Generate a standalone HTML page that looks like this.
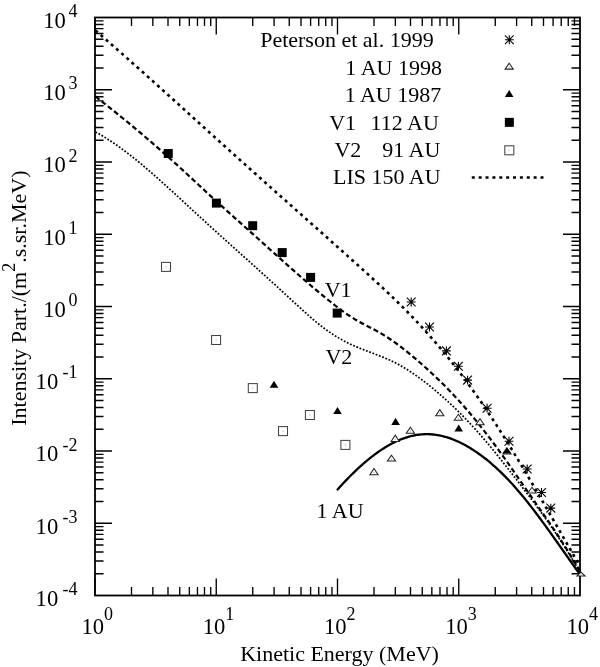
<!DOCTYPE html>
<html><head><meta charset="utf-8"><style>
html,body{margin:0;padding:0;background:#fff;}
svg{display:block;filter:grayscale(1);}
text{font-family:"Liberation Serif",serif;fill:#000;}
</style></head><body>
<svg width="600" height="667" viewBox="0 0 600 667">
<rect x="95.0" y="17.5" width="485.0" height="578.0" fill="none" stroke="#000" stroke-width="1.8"/>
<path d="M95.00 595.5V578.5M95.00 17.5V34.5M131.50 595.5V587.0M131.50 17.5V26.0M152.85 595.5V587.0M152.85 17.5V26.0M168.00 595.5V587.0M168.00 17.5V26.0M179.75 595.5V587.0M179.75 17.5V26.0M189.35 595.5V587.0M189.35 17.5V26.0M197.47 595.5V587.0M197.47 17.5V26.0M204.50 595.5V587.0M204.50 17.5V26.0M210.70 595.5V587.0M210.70 17.5V26.0M216.25 595.5V578.5M216.25 17.5V34.5M252.75 595.5V587.0M252.75 17.5V26.0M274.10 595.5V587.0M274.10 17.5V26.0M289.25 595.5V587.0M289.25 17.5V26.0M301.00 595.5V587.0M301.00 17.5V26.0M310.60 595.5V587.0M310.60 17.5V26.0M318.72 595.5V587.0M318.72 17.5V26.0M325.75 595.5V587.0M325.75 17.5V26.0M331.95 595.5V587.0M331.95 17.5V26.0M337.50 595.5V578.5M337.50 17.5V34.5M374.00 595.5V587.0M374.00 17.5V26.0M395.35 595.5V587.0M395.35 17.5V26.0M410.50 595.5V587.0M410.50 17.5V26.0M422.25 595.5V587.0M422.25 17.5V26.0M431.85 595.5V587.0M431.85 17.5V26.0M439.97 595.5V587.0M439.97 17.5V26.0M447.00 595.5V587.0M447.00 17.5V26.0M453.20 595.5V587.0M453.20 17.5V26.0M458.75 595.5V578.5M458.75 17.5V34.5M495.25 595.5V587.0M495.25 17.5V26.0M516.60 595.5V587.0M516.60 17.5V26.0M531.75 595.5V587.0M531.75 17.5V26.0M543.50 595.5V587.0M543.50 17.5V26.0M553.10 595.5V587.0M553.10 17.5V26.0M561.22 595.5V587.0M561.22 17.5V26.0M568.25 595.5V587.0M568.25 17.5V26.0M574.45 595.5V587.0M574.45 17.5V26.0M95.0 573.75H103.5M580.0 573.75H571.5M95.0 561.03H103.5M580.0 561.03H571.5M95.0 552.00H103.5M580.0 552.00H571.5M95.0 545.00H103.5M580.0 545.00H571.5M95.0 539.28H103.5M580.0 539.28H571.5M95.0 534.44H103.5M580.0 534.44H571.5M95.0 530.25H103.5M580.0 530.25H571.5M95.0 526.56H103.5M580.0 526.56H571.5M95.0 523.25H112.0M580.0 523.25H563.0M95.0 501.50H103.5M580.0 501.50H571.5M95.0 488.78H103.5M580.0 488.78H571.5M95.0 479.75H103.5M580.0 479.75H571.5M95.0 472.75H103.5M580.0 472.75H571.5M95.0 467.03H103.5M580.0 467.03H571.5M95.0 462.19H103.5M580.0 462.19H571.5M95.0 458.00H103.5M580.0 458.00H571.5M95.0 454.31H103.5M580.0 454.31H571.5M95.0 451.00H112.0M580.0 451.00H563.0M95.0 429.25H103.5M580.0 429.25H571.5M95.0 416.53H103.5M580.0 416.53H571.5M95.0 407.50H103.5M580.0 407.50H571.5M95.0 400.50H103.5M580.0 400.50H571.5M95.0 394.78H103.5M580.0 394.78H571.5M95.0 389.94H103.5M580.0 389.94H571.5M95.0 385.75H103.5M580.0 385.75H571.5M95.0 382.06H103.5M580.0 382.06H571.5M95.0 378.75H112.0M580.0 378.75H563.0M95.0 357.00H103.5M580.0 357.00H571.5M95.0 344.28H103.5M580.0 344.28H571.5M95.0 335.25H103.5M580.0 335.25H571.5M95.0 328.25H103.5M580.0 328.25H571.5M95.0 322.53H103.5M580.0 322.53H571.5M95.0 317.69H103.5M580.0 317.69H571.5M95.0 313.50H103.5M580.0 313.50H571.5M95.0 309.81H103.5M580.0 309.81H571.5M95.0 306.50H112.0M580.0 306.50H563.0M95.0 284.75H103.5M580.0 284.75H571.5M95.0 272.03H103.5M580.0 272.03H571.5M95.0 263.00H103.5M580.0 263.00H571.5M95.0 256.00H103.5M580.0 256.00H571.5M95.0 250.28H103.5M580.0 250.28H571.5M95.0 245.44H103.5M580.0 245.44H571.5M95.0 241.25H103.5M580.0 241.25H571.5M95.0 237.56H103.5M580.0 237.56H571.5M95.0 234.25H112.0M580.0 234.25H563.0M95.0 212.50H103.5M580.0 212.50H571.5M95.0 199.78H103.5M580.0 199.78H571.5M95.0 190.75H103.5M580.0 190.75H571.5M95.0 183.75H103.5M580.0 183.75H571.5M95.0 178.03H103.5M580.0 178.03H571.5M95.0 173.19H103.5M580.0 173.19H571.5M95.0 169.00H103.5M580.0 169.00H571.5M95.0 165.31H103.5M580.0 165.31H571.5M95.0 162.00H112.0M580.0 162.00H563.0M95.0 140.25H103.5M580.0 140.25H571.5M95.0 127.53H103.5M580.0 127.53H571.5M95.0 118.50H103.5M580.0 118.50H571.5M95.0 111.50H103.5M580.0 111.50H571.5M95.0 105.78H103.5M580.0 105.78H571.5M95.0 100.94H103.5M580.0 100.94H571.5M95.0 96.75H103.5M580.0 96.75H571.5M95.0 93.06H103.5M580.0 93.06H571.5M95.0 89.75H112.0M580.0 89.75H563.0M95.0 68.00H103.5M580.0 68.00H571.5M95.0 55.28H103.5M580.0 55.28H571.5M95.0 46.25H103.5M580.0 46.25H571.5M95.0 39.25H103.5M580.0 39.25H571.5M95.0 33.53H103.5M580.0 33.53H571.5M95.0 28.69H103.5M580.0 28.69H571.5M95.0 24.50H103.5M580.0 24.50H571.5M95.0 20.81H103.5M580.0 20.81H571.5" stroke="#000" stroke-width="1.35" fill="none"/>
<text x="35.60" y="605.80" font-size="22.6" text-anchor="start" >10</text>
<text x="77.40" y="595.20" font-size="18" text-anchor="end" >-4</text>
<text x="35.60" y="533.55" font-size="22.6" text-anchor="start" >10</text>
<text x="77.40" y="522.95" font-size="18" text-anchor="end" >-3</text>
<text x="35.60" y="461.30" font-size="22.6" text-anchor="start" >10</text>
<text x="77.40" y="450.70" font-size="18" text-anchor="end" >-2</text>
<text x="35.60" y="389.05" font-size="22.6" text-anchor="start" >10</text>
<text x="77.40" y="378.45" font-size="18" text-anchor="end" >-1</text>
<text x="43.20" y="316.80" font-size="22.6" text-anchor="start" >10</text>
<text x="77.40" y="306.20" font-size="18" text-anchor="end" >0</text>
<text x="43.20" y="244.55" font-size="22.6" text-anchor="start" >10</text>
<text x="77.40" y="233.95" font-size="18" text-anchor="end" >1</text>
<text x="43.20" y="172.30" font-size="22.6" text-anchor="start" >10</text>
<text x="77.40" y="161.70" font-size="18" text-anchor="end" >2</text>
<text x="43.20" y="100.05" font-size="22.6" text-anchor="start" >10</text>
<text x="77.40" y="89.45" font-size="18" text-anchor="end" >3</text>
<text x="43.20" y="27.80" font-size="22.6" text-anchor="start" >10</text>
<text x="77.40" y="17.20" font-size="18" text-anchor="end" >4</text>
<text x="81.40" y="633.50" font-size="22.6" text-anchor="start" >10</text>
<text x="104.00" y="620.30" font-size="18" text-anchor="start" >0</text>
<text x="202.65" y="633.50" font-size="22.6" text-anchor="start" >10</text>
<text x="225.25" y="620.30" font-size="18" text-anchor="start" >1</text>
<text x="323.90" y="633.50" font-size="22.6" text-anchor="start" >10</text>
<text x="346.50" y="620.30" font-size="18" text-anchor="start" >2</text>
<text x="445.15" y="633.50" font-size="22.6" text-anchor="start" >10</text>
<text x="467.75" y="620.30" font-size="18" text-anchor="start" >3</text>
<text x="566.40" y="633.50" font-size="22.6" text-anchor="start" >10</text>
<text x="589.00" y="620.30" font-size="18" text-anchor="start" >4</text>
<text x="240.17" y="661.00" font-size="22" text-anchor="start" >Kinetic Energy (MeV)</text>
<text transform="translate(26,425.79) rotate(-90)" font-size="22">Intensity Part./(m<tspan font-size="18" dy="-11">2</tspan><tspan dy="11">.s.sr.MeV)</tspan></text>
<text x="260.17" y="47.40" font-size="22" text-anchor="start" >Peterson et al. 1999</text>
<text x="345.37" y="74.90" font-size="22" text-anchor="start" >1 AU 1998</text>
<text x="344.67" y="102.30" font-size="22" text-anchor="start" >1 AU 1987</text>
<text x="329.15" y="129.60" font-size="22" text-anchor="start" >V1</text>
<text x="370.57" y="129.60" font-size="22" text-anchor="start" >112 AU</text>
<text x="334.45" y="156.90" font-size="22" text-anchor="start" >V2</text>
<text x="382.29" y="156.90" font-size="22" text-anchor="start" >91 AU</text>
<text x="332.97" y="184.20" font-size="22" text-anchor="start" >LIS 150 AU</text>
<text x="324.65" y="297.30" font-size="22" text-anchor="start" >V1</text>
<text x="325.45" y="364.00" font-size="22" text-anchor="start" >V2</text>
<text x="316.57" y="518.00" font-size="22" text-anchor="start" >1 AU</text>
<path d="M95.50 30.52L97.00 31.82L98.50 33.12L100.00 34.42L101.50 35.72L103.00 37.03L104.50 38.34L106.00 39.64L107.50 40.96L109.00 42.27L110.50 43.58L112.00 44.90L113.50 46.21L115.00 47.53L116.50 48.85L118.00 50.17L119.50 51.50L121.00 52.82L122.50 54.15L124.00 55.47L125.50 56.80L127.00 58.13L128.50 59.46L130.00 60.79L131.50 62.13L133.00 63.46L134.50 64.80L136.00 66.13L137.50 67.47L139.00 68.81L140.50 70.15L142.00 71.49L143.50 72.83L145.00 74.17L146.50 75.52L148.00 76.86L149.50 78.21L151.00 79.55L152.50 80.90L154.00 82.25L155.50 83.60L157.00 84.95L158.50 86.30L160.00 87.65L161.50 89.00L163.00 90.35L164.50 91.71L166.00 93.06L167.50 94.41L169.00 95.77L170.50 97.12L172.00 98.48L173.50 99.83L175.00 101.19L176.50 102.55L178.00 103.90L179.50 105.26L181.00 106.62L182.50 107.98L184.00 109.33L185.50 110.69L187.00 112.05L188.50 113.41L190.00 114.77L191.50 116.13L193.00 117.49L194.50 118.85L196.00 120.21L197.50 121.56L199.00 122.92L200.50 124.28L202.00 125.64L203.50 127.00L205.00 128.36L206.50 129.72L208.00 131.08L209.50 132.44L211.00 133.79L212.50 135.15L214.00 136.51L215.50 137.87L217.00 139.22L218.50 140.58L220.00 141.94L221.50 143.29L223.00 144.65L224.50 146.00L226.00 147.36L227.50 148.71L229.00 150.06L230.50 151.41L232.00 152.77L233.50 154.12L235.00 155.47L236.50 156.82L238.00 158.17L239.50 159.52L241.00 160.86L242.50 162.21L244.00 163.56L245.50 164.90L247.00 166.25L248.50 167.59L250.00 168.93L251.50 170.28L253.00 171.62L254.50 172.96L256.00 174.30L257.50 175.64L259.00 176.98L260.50 178.32L262.00 179.66L263.50 181.00L265.00 182.34L266.50 183.68L268.00 185.01L269.50 186.35L271.00 187.69L272.50 189.02L274.00 190.36L275.50 191.70L277.00 193.03L278.50 194.37L280.00 195.70L281.50 197.04L283.00 198.37L284.50 199.71L286.00 201.04L287.50 202.37L289.00 203.71L290.50 205.04L292.00 206.38L293.50 207.71L295.00 209.04L296.50 210.38L298.00 211.71L299.50 213.05L301.00 214.38L302.50 215.71L304.00 217.05L305.50 218.38L307.00 219.72L308.50 221.05L310.00 222.39L311.50 223.72L313.00 225.06L314.50 226.39L316.00 227.73L317.50 229.06L319.00 230.40L320.50 231.74L322.00 233.07L323.50 234.41L325.00 235.75L326.50 237.09L328.00 238.43L329.50 239.77L331.00 241.11L332.50 242.45L334.00 243.79L335.50 245.13L337.00 246.47L338.50 247.81L340.00 249.15L341.50 250.50L343.00 251.84L344.50 253.19L346.00 254.53L347.50 255.88L349.00 257.23L350.50 258.57L352.00 259.92L353.50 261.27L355.00 262.62L356.50 263.97L358.00 265.32L359.50 266.68L361.00 268.03L362.50 269.39L364.00 270.74L365.50 272.10L367.00 273.46L368.50 274.82L370.00 276.19L371.50 277.55L373.00 278.93L374.50 280.30L376.00 281.68L377.50 283.06L379.00 284.45L380.50 285.84L382.00 287.23L383.50 288.63L385.00 290.04L386.50 291.45L388.00 292.87L389.50 294.29L391.00 295.73L392.50 297.16L394.00 298.61L395.50 300.06L397.00 301.52L398.50 302.99L400.00 304.46L401.50 305.95L403.00 307.44L404.50 308.94L406.00 310.46L407.50 311.98L409.00 313.51L410.50 315.05L412.00 316.60L413.50 318.17L415.00 319.74L416.50 321.33L418.00 322.92L419.50 324.53L421.00 326.15L422.50 327.79L424.00 329.43L425.50 331.09L427.00 332.76L428.50 334.44L430.00 336.14L431.50 337.85L433.00 339.57L434.50 341.30L436.00 343.05L437.50 344.81L439.00 346.58L440.50 348.37L442.00 350.17L443.50 351.98L445.00 353.81L446.50 355.65L448.00 357.50L449.50 359.37L451.00 361.25L452.50 363.14L454.00 365.05L455.50 366.97L457.00 368.91L458.50 370.86L460.00 372.82L461.50 374.80L463.00 376.80L464.50 378.80L466.00 380.82L467.50 382.86L469.00 384.91L470.50 386.98L472.00 389.06L473.50 391.15L475.00 393.26L476.50 395.39L478.00 397.53L479.50 399.68L481.00 401.86L482.50 404.04L484.00 406.24L485.50 408.46L487.00 410.69L488.50 412.94L490.00 415.20L491.50 417.47L493.00 419.76L494.50 422.07L496.00 424.38L497.50 426.71L499.00 429.05L500.50 431.41L502.00 433.77L503.50 436.15L505.00 438.54L506.50 440.94L508.00 443.36L509.50 445.78L511.00 448.21L512.50 450.66L514.00 453.11L515.50 455.58L517.00 458.05L518.50 460.53L520.00 463.03L521.50 465.53L523.00 468.04L524.50 470.55L526.00 473.08L527.50 475.61L529.00 478.15L530.50 480.69L532.00 483.25L533.50 485.80L535.00 488.37L536.50 490.94L538.00 493.51L539.50 496.09L541.00 498.67L542.50 501.26L544.00 503.85L545.50 506.44L547.00 509.03L548.50 511.63L550.00 514.23L551.50 516.83L553.00 519.43L554.50 522.04L556.00 524.64L557.50 527.24L559.00 529.84L560.50 532.45L562.00 535.05L563.50 537.65L565.00 540.25L566.50 542.84L568.00 545.43L569.50 548.03L571.00 550.61L572.50 553.20L574.00 555.78L575.50 558.35L577.00 560.92L578.50 563.49L580.00 566.05" fill="none" stroke="#000" stroke-width="2.6" stroke-dasharray="3 3.87"/>
<path d="M95.50 96.48L97.00 97.66L98.50 98.83L100.00 100.01L101.50 101.19L103.00 102.37L104.50 103.55L106.00 104.74L107.50 105.93L109.00 107.13L110.50 108.33L112.00 109.53L113.50 110.73L115.00 111.94L116.50 113.15L118.00 114.36L119.50 115.57L121.00 116.79L122.50 118.01L124.00 119.24L125.50 120.47L127.00 121.70L128.50 122.94L130.00 124.17L131.50 125.42L133.00 126.66L134.50 127.91L136.00 129.16L137.50 130.42L139.00 131.68L140.50 132.94L142.00 134.21L143.50 135.48L145.00 136.75L146.50 138.03L148.00 139.31L149.50 140.60L151.00 141.89L152.50 143.18L154.00 144.48L155.50 145.78L157.00 147.09L158.50 148.39L160.00 149.71L161.50 151.02L163.00 152.34L164.50 153.67L166.00 155.00L167.50 156.33L169.00 157.67L170.50 159.01L172.00 160.36L173.50 161.71L175.00 163.06L176.50 164.42L178.00 165.79L179.50 167.15L181.00 168.53L182.50 169.90L184.00 171.28L185.50 172.67L187.00 174.05L188.50 175.44L190.00 176.83L191.50 178.23L193.00 179.62L194.50 181.02L196.00 182.41L197.50 183.81L199.00 185.21L200.50 186.60L202.00 188.00L203.50 189.39L205.00 190.78L206.50 192.18L208.00 193.56L209.50 194.95L211.00 196.33L212.50 197.71L214.00 199.08L215.50 200.46L217.00 201.82L218.50 203.19L220.00 204.55L221.50 205.91L223.00 207.27L224.50 208.62L226.00 209.98L227.50 211.33L229.00 212.68L230.50 214.03L232.00 215.37L233.50 216.72L235.00 218.06L236.50 219.41L238.00 220.75L239.50 222.09L241.00 223.43L242.50 224.77L244.00 226.11L245.50 227.45L247.00 228.79L248.50 230.13L250.00 231.48L251.50 232.82L253.00 234.16L254.50 235.51L256.00 236.85L257.50 238.20L259.00 239.55L260.50 240.89L262.00 242.24L263.50 243.59L265.00 244.94L266.50 246.29L268.00 247.64L269.50 248.99L271.00 250.34L272.50 251.69L274.00 253.04L275.50 254.39L277.00 255.73L278.50 257.08L280.00 258.42L281.50 259.77L283.00 261.11L284.50 262.45L286.00 263.78L287.50 265.12L289.00 266.45L290.50 267.78L292.00 269.11L293.50 270.44L295.00 271.76L296.50 273.08L298.00 274.39L299.50 275.71L301.00 277.02L302.50 278.32L304.00 279.62L305.50 280.92L307.00 282.22L308.50 283.50L310.00 284.79L311.50 286.07L313.00 287.34L314.50 288.62L316.00 289.88L317.50 291.14L319.00 292.39L320.50 293.64L322.00 294.89L323.50 296.12L325.00 297.35L326.50 298.58L328.00 299.80L329.50 301.01L331.00 302.21L332.50 303.40L334.00 304.58L335.50 305.75L337.00 306.91L338.50 308.05L340.00 309.18L341.50 310.29L343.00 311.38L344.50 312.45L346.00 313.50L347.50 314.54L349.00 315.54L350.50 316.53L352.00 317.49L353.50 318.43L355.00 319.33L356.50 320.21L358.00 321.07L359.50 321.91L361.00 322.72L362.50 323.53L364.00 324.32L365.50 325.10L367.00 325.88L368.50 326.65L370.00 327.43L371.50 328.21L373.00 328.99L374.50 329.79L376.00 330.59L377.50 331.41L379.00 332.25L380.50 333.11L382.00 334.00L383.50 334.91L385.00 335.84L386.50 336.79L388.00 337.76L389.50 338.75L391.00 339.77L392.50 340.80L394.00 341.85L395.50 342.92L397.00 344.01L398.50 345.12L400.00 346.25L401.50 347.39L403.00 348.55L404.50 349.72L406.00 350.91L407.50 352.11L409.00 353.33L410.50 354.57L412.00 355.81L413.50 357.07L415.00 358.34L416.50 359.62L418.00 360.92L419.50 362.22L421.00 363.54L422.50 364.86L424.00 366.20L425.50 367.54L427.00 368.90L428.50 370.27L430.00 371.64L431.50 373.03L433.00 374.43L434.50 375.84L436.00 377.26L437.50 378.70L439.00 380.15L440.50 381.61L442.00 383.08L443.50 384.57L445.00 386.08L446.50 387.60L448.00 389.13L449.50 390.68L451.00 392.25L452.50 393.83L454.00 395.43L455.50 397.04L457.00 398.67L458.50 400.31L460.00 401.97L461.50 403.64L463.00 405.33L464.50 407.04L466.00 408.76L467.50 410.50L469.00 412.25L470.50 414.02L472.00 415.81L473.50 417.61L475.00 419.42L476.50 421.26L478.00 423.10L479.50 424.97L481.00 426.85L482.50 428.74L484.00 430.65L485.50 432.58L487.00 434.53L488.50 436.48L490.00 438.46L491.50 440.45L493.00 442.46L494.50 444.48L496.00 446.52L497.50 448.56L499.00 450.62L500.50 452.70L502.00 454.78L503.50 456.88L505.00 458.98L506.50 461.10L508.00 463.22L509.50 465.35L511.00 467.49L512.50 469.63L514.00 471.78L515.50 473.93L517.00 476.09L518.50 478.26L520.00 480.42L521.50 482.59L523.00 484.77L524.50 486.94L526.00 489.11L527.50 491.28L529.00 493.46L530.50 495.63L532.00 497.79L533.50 499.96L535.00 502.12L536.50 504.28L538.00 506.43L539.50 508.58L541.00 510.72L542.50 512.87L544.00 515.02L545.50 517.17L547.00 519.32L548.50 521.49L550.00 523.67L551.50 525.87L553.00 528.08L554.50 530.31L556.00 532.56L557.50 534.84L559.00 537.13L560.50 539.45L562.00 541.79L563.50 544.14L565.00 546.51L566.50 548.90L568.00 551.31L569.50 553.74L571.00 556.18L572.50 558.63L574.00 561.10L575.50 563.59L577.00 566.08L578.50 568.59L580.00 571.11" fill="none" stroke="#000" stroke-width="2.2" stroke-dasharray="5 2.9"/>
<path d="M95.50 131.91L97.00 132.73L98.50 133.57L100.00 134.43L101.50 135.31L103.00 136.21L104.50 137.12L106.00 138.05L107.50 139.00L109.00 139.96L110.50 140.94L112.00 141.94L113.50 142.95L115.00 143.98L116.50 145.02L118.00 146.08L119.50 147.15L121.00 148.23L122.50 149.33L124.00 150.44L125.50 151.57L127.00 152.70L128.50 153.85L130.00 155.01L131.50 156.19L133.00 157.37L134.50 158.57L136.00 159.78L137.50 160.99L139.00 162.22L140.50 163.46L142.00 164.71L143.50 165.96L145.00 167.23L146.50 168.50L148.00 169.78L149.50 171.07L151.00 172.37L152.50 173.68L154.00 174.99L155.50 176.31L157.00 177.63L158.50 178.97L160.00 180.30L161.50 181.65L163.00 183.00L164.50 184.35L166.00 185.71L167.50 187.07L169.00 188.43L170.50 189.80L172.00 191.18L173.50 192.55L175.00 193.93L176.50 195.31L178.00 196.69L179.50 198.08L181.00 199.46L182.50 200.85L184.00 202.24L185.50 203.63L187.00 205.01L188.50 206.40L190.00 207.79L191.50 209.18L193.00 210.56L194.50 211.95L196.00 213.33L197.50 214.71L199.00 216.09L200.50 217.47L202.00 218.84L203.50 220.21L205.00 221.58L206.50 222.95L208.00 224.32L209.50 225.68L211.00 227.05L212.50 228.41L214.00 229.77L215.50 231.13L217.00 232.49L218.50 233.85L220.00 235.20L221.50 236.56L223.00 237.91L224.50 239.26L226.00 240.62L227.50 241.97L229.00 243.32L230.50 244.67L232.00 246.02L233.50 247.37L235.00 248.72L236.50 250.06L238.00 251.41L239.50 252.76L241.00 254.11L242.50 255.45L244.00 256.80L245.50 258.15L247.00 259.50L248.50 260.85L250.00 262.20L251.50 263.54L253.00 264.89L254.50 266.24L256.00 267.59L257.50 268.95L259.00 270.30L260.50 271.65L262.00 273.00L263.50 274.36L265.00 275.72L266.50 277.07L268.00 278.43L269.50 279.79L271.00 281.15L272.50 282.51L274.00 283.88L275.50 285.24L277.00 286.61L278.50 287.98L280.00 289.35L281.50 290.72L283.00 292.10L284.50 293.47L286.00 294.85L287.50 296.23L289.00 297.62L290.50 299.00L292.00 300.39L293.50 301.77L295.00 303.16L296.50 304.54L298.00 305.92L299.50 307.30L301.00 308.67L302.50 310.03L304.00 311.39L305.50 312.73L307.00 314.07L308.50 315.39L310.00 316.70L311.50 318.00L313.00 319.29L314.50 320.56L316.00 321.81L317.50 323.04L319.00 324.25L320.50 325.45L322.00 326.62L323.50 327.77L325.00 328.90L326.50 330.00L328.00 331.07L329.50 332.12L331.00 333.15L332.50 334.14L334.00 335.12L335.50 336.06L337.00 336.99L338.50 337.88L340.00 338.76L341.50 339.60L343.00 340.43L344.50 341.23L346.00 342.01L347.50 342.76L349.00 343.49L350.50 344.20L352.00 344.89L353.50 345.56L355.00 346.21L356.50 346.85L358.00 347.48L359.50 348.09L361.00 348.69L362.50 349.28L364.00 349.87L365.50 350.44L367.00 351.02L368.50 351.59L370.00 352.15L371.50 352.72L373.00 353.29L374.50 353.86L376.00 354.43L377.50 355.01L379.00 355.59L380.50 356.19L382.00 356.79L383.50 357.41L385.00 358.03L386.50 358.67L388.00 359.33L389.50 360.00L391.00 360.70L392.50 361.41L394.00 362.14L395.50 362.90L397.00 363.68L398.50 364.49L400.00 365.32L401.50 366.17L403.00 367.04L404.50 367.94L406.00 368.85L407.50 369.79L409.00 370.75L410.50 371.73L412.00 372.73L413.50 373.74L415.00 374.78L416.50 375.84L418.00 376.91L419.50 378.00L421.00 379.11L422.50 380.23L424.00 381.37L425.50 382.53L427.00 383.70L428.50 384.88L430.00 386.08L431.50 387.30L433.00 388.53L434.50 389.77L436.00 391.03L437.50 392.30L439.00 393.59L440.50 394.89L442.00 396.20L443.50 397.53L445.00 398.88L446.50 400.24L448.00 401.61L449.50 403.00L451.00 404.40L452.50 405.82L454.00 407.25L455.50 408.70L457.00 410.16L458.50 411.64L460.00 413.13L461.50 414.64L463.00 416.16L464.50 417.70L466.00 419.25L467.50 420.82L469.00 422.41L470.50 424.00L472.00 425.62L473.50 427.25L475.00 428.89L476.50 430.55L478.00 432.23L479.50 433.92L481.00 435.62L482.50 437.34L484.00 439.08L485.50 440.83L487.00 442.60L488.50 444.39L490.00 446.19L491.50 448.00L493.00 449.83L494.50 451.68L496.00 453.53L497.50 455.40L499.00 457.28L500.50 459.17L502.00 461.06L503.50 462.97L505.00 464.88L506.50 466.80L508.00 468.72L509.50 470.64L511.00 472.58L512.50 474.51L514.00 476.45L515.50 478.39L517.00 480.34L518.50 482.28L520.00 484.23L521.50 486.19L523.00 488.15L524.50 490.11L526.00 492.08L527.50 494.06L529.00 496.04L530.50 498.04L532.00 500.04L533.50 502.05L535.00 504.07L536.50 506.10L538.00 508.14L539.50 510.19L541.00 512.26L542.50 514.33L544.00 516.42L545.50 518.53L547.00 520.65L548.50 522.78L550.00 524.94L551.50 527.10L553.00 529.29L554.50 531.49L556.00 533.71L557.50 535.95L559.00 538.21L560.50 540.49L562.00 542.80L563.50 545.12L565.00 547.46L566.50 549.83L568.00 552.22L569.50 554.64L571.00 557.08L572.50 559.54L574.00 562.04L575.50 564.55L577.00 567.10L578.50 569.67L580.00 572.27" fill="none" stroke="#000" stroke-width="1.7" stroke-dasharray="1.8 1.66"/>
<path d="M337.00 490.18L338.50 488.50L340.00 486.84L341.50 485.20L343.00 483.58L344.50 481.98L346.00 480.40L347.50 478.84L349.00 477.30L350.50 475.78L352.00 474.29L353.50 472.81L355.00 471.36L356.50 469.93L358.00 468.52L359.50 467.14L361.00 465.78L362.50 464.45L364.00 463.13L365.50 461.85L367.00 460.59L368.50 459.35L370.00 458.14L371.50 456.95L373.00 455.79L374.50 454.66L376.00 453.55L377.50 452.47L379.00 451.42L380.50 450.40L382.00 449.40L383.50 448.43L385.00 447.49L386.50 446.58L388.00 445.70L389.50 444.85L391.00 444.03L392.50 443.24L394.00 442.48L395.50 441.75L397.00 441.05L398.50 440.39L400.00 439.75L401.50 439.15L403.00 438.58L404.50 438.05L406.00 437.55L407.50 437.08L409.00 436.64L410.50 436.24L412.00 435.87L413.50 435.54L415.00 435.25L416.50 434.99L418.00 434.76L419.50 434.57L421.00 434.42L422.50 434.31L424.00 434.23L425.50 434.18L427.00 434.18L428.50 434.20L430.00 434.27L431.50 434.36L433.00 434.50L434.50 434.66L436.00 434.86L437.50 435.10L439.00 435.37L440.50 435.67L442.00 436.00L443.50 436.37L445.00 436.77L446.50 437.20L448.00 437.66L449.50 438.15L451.00 438.68L452.50 439.24L454.00 439.82L455.50 440.44L457.00 441.09L458.50 441.77L460.00 442.47L461.50 443.21L463.00 443.98L464.50 444.77L466.00 445.60L467.50 446.45L469.00 447.33L470.50 448.23L472.00 449.17L473.50 450.13L475.00 451.12L476.50 452.14L478.00 453.18L479.50 454.25L481.00 455.34L482.50 456.46L484.00 457.61L485.50 458.78L487.00 459.97L488.50 461.20L490.00 462.45L491.50 463.72L493.00 465.02L494.50 466.35L496.00 467.70L497.50 469.08L499.00 470.49L500.50 471.92L502.00 473.38L503.50 474.86L505.00 476.37L506.50 477.91L508.00 479.47L509.50 481.06L511.00 482.68L512.50 484.32L514.00 485.99L515.50 487.68L517.00 489.40L518.50 491.15L520.00 492.91L521.50 494.70L523.00 496.52L524.50 498.35L526.00 500.21L527.50 502.08L529.00 503.98L530.50 505.89L532.00 507.83L533.50 509.78L535.00 511.74L536.50 513.73L538.00 515.73L539.50 517.74L541.00 519.77L542.50 521.81L544.00 523.87L545.50 525.93L547.00 528.01L548.50 530.09L550.00 532.18L551.50 534.28L553.00 536.39L554.50 538.50L556.00 540.62L557.50 542.75L559.00 544.87L560.50 547.00L562.00 549.13L563.50 551.26L565.00 553.39L566.50 555.52L568.00 557.65L569.50 559.77L571.00 561.90L572.50 564.01L574.00 566.12L575.50 568.23L577.00 570.33L578.50 572.42L579.60 573.94" fill="none" stroke="#000" stroke-width="2.3"/>
<path d="M504.90 39.75H513.70M509.30 35.35V44.15M504.90 35.35L513.70 44.15M504.90 44.15L513.70 35.35" stroke="#000" stroke-width="1.1" fill="none"/>
<rect x="508.40" y="38.85" width="1.8" height="1.8" fill="#000"/>
<path d="M509.20 63.20L513.30 69.10L505.10 69.10Z" fill="#fff" stroke="#222" stroke-width="1.05" stroke-linejoin="miter"/>
<rect x="508.70" y="66.63" width="1" height="1" fill="#aaa"/>
<path d="M509.20 90.10L513.50 97.00L504.90 97.00Z" fill="#000"/>
<rect x="504.85" y="117.85" width="9.0" height="9.0" fill="#000"/>
<rect x="504.80" y="145.80" width="9.0" height="9.0" fill="#fff" stroke="#444" stroke-width="1.05"/>
<rect x="508.80" y="149.80" width="1" height="1" fill="#999"/>
<path d="M471.8 177.5H544" fill="none" stroke="#000" stroke-width="2.7" stroke-dasharray="3 3.87"/>
<rect x="163.75" y="149.00" width="9.0" height="9.0" fill="#000"/>
<rect x="211.90" y="198.60" width="9.0" height="9.0" fill="#000"/>
<rect x="248.20" y="221.20" width="9.0" height="9.0" fill="#000"/>
<rect x="277.70" y="248.10" width="9.0" height="9.0" fill="#000"/>
<rect x="306.10" y="272.90" width="9.0" height="9.0" fill="#000"/>
<rect x="332.70" y="308.60" width="9.0" height="9.0" fill="#000"/>
<rect x="161.50" y="262.40" width="9.0" height="9.0" fill="#fff" stroke="#444" stroke-width="1.05"/>
<rect x="165.50" y="266.40" width="1" height="1" fill="#999"/>
<rect x="211.60" y="335.50" width="9.0" height="9.0" fill="#fff" stroke="#444" stroke-width="1.05"/>
<rect x="215.60" y="339.50" width="1" height="1" fill="#999"/>
<rect x="248.30" y="383.60" width="9.0" height="9.0" fill="#fff" stroke="#444" stroke-width="1.05"/>
<rect x="252.30" y="387.60" width="1" height="1" fill="#999"/>
<rect x="278.50" y="426.60" width="9.0" height="9.0" fill="#fff" stroke="#444" stroke-width="1.05"/>
<rect x="282.50" y="430.60" width="1" height="1" fill="#999"/>
<rect x="305.40" y="410.50" width="9.0" height="9.0" fill="#fff" stroke="#444" stroke-width="1.05"/>
<rect x="309.40" y="414.50" width="1" height="1" fill="#999"/>
<rect x="340.90" y="440.40" width="9.0" height="9.0" fill="#fff" stroke="#444" stroke-width="1.05"/>
<rect x="344.90" y="444.40" width="1" height="1" fill="#999"/>
<path d="M374.00 468.50L378.10 474.80L369.90 474.80Z" fill="#fff" stroke="#222" stroke-width="1.05" stroke-linejoin="miter"/>
<rect x="373.50" y="472.20" width="1" height="1" fill="#aaa"/>
<path d="M391.50 455.20L395.60 461.00L387.40 461.00Z" fill="#fff" stroke="#222" stroke-width="1.05" stroke-linejoin="miter"/>
<rect x="391.00" y="458.57" width="1" height="1" fill="#aaa"/>
<path d="M395.20 435.10L399.30 441.50L391.10 441.50Z" fill="#fff" stroke="#222" stroke-width="1.05" stroke-linejoin="miter"/>
<rect x="394.70" y="438.87" width="1" height="1" fill="#aaa"/>
<path d="M410.40 427.20L414.50 433.20L406.30 433.20Z" fill="#fff" stroke="#222" stroke-width="1.05" stroke-linejoin="miter"/>
<rect x="409.90" y="430.70" width="1" height="1" fill="#aaa"/>
<path d="M439.80 409.60L443.90 415.70L435.70 415.70Z" fill="#fff" stroke="#222" stroke-width="1.05" stroke-linejoin="miter"/>
<rect x="439.30" y="413.17" width="1" height="1" fill="#aaa"/>
<path d="M458.40 414.30L462.50 420.20L454.30 420.20Z" fill="#fff" stroke="#222" stroke-width="1.05" stroke-linejoin="miter"/>
<rect x="457.90" y="417.73" width="1" height="1" fill="#aaa"/>
<path d="M480.00 418.80L484.10 424.80L475.90 424.80Z" fill="#fff" stroke="#222" stroke-width="1.05" stroke-linejoin="miter"/>
<rect x="479.50" y="422.30" width="1" height="1" fill="#aaa"/>
<path d="M507.00 448.30L511.10 454.00L502.90 454.00Z" fill="#fff" stroke="#222" stroke-width="1.05" stroke-linejoin="miter"/>
<rect x="506.50" y="451.60" width="1" height="1" fill="#aaa"/>
<path d="M532.00 487.30L536.10 493.00L527.90 493.00Z" fill="#fff" stroke="#222" stroke-width="1.05" stroke-linejoin="miter"/>
<rect x="531.50" y="490.60" width="1" height="1" fill="#aaa"/>
<path d="M581.00 572.20L585.10 576.00L576.90 576.00Z" fill="#fff" stroke="#222" stroke-width="1.05" stroke-linejoin="miter"/>
<rect x="580.50" y="574.23" width="1" height="1" fill="#aaa"/>
<path d="M274.00 380.70L278.30 387.80L269.70 387.80Z" fill="#000"/>
<path d="M337.50 407.00L341.80 414.00L333.20 414.00Z" fill="#000"/>
<path d="M395.60 417.80L399.90 425.00L391.30 425.00Z" fill="#000"/>
<path d="M458.70 424.50L463.00 431.40L454.40 431.40Z" fill="#000"/>
<path d="M506.80 447.00L511.10 453.50L502.50 453.50Z" fill="#000"/>
<path d="M406.80 302.00H415.60M411.20 297.60V306.40M406.80 297.60L415.60 306.40M406.80 306.40L415.60 297.60" stroke="#000" stroke-width="1.1" fill="none"/>
<rect x="410.30" y="301.10" width="1.8" height="1.8" fill="#000"/>
<path d="M425.10 327.00H433.90M429.50 322.60V331.40M425.10 322.60L433.90 331.40M425.10 331.40L433.90 322.60" stroke="#000" stroke-width="1.1" fill="none"/>
<rect x="428.60" y="326.10" width="1.8" height="1.8" fill="#000"/>
<path d="M442.00 350.90H450.80M446.40 346.50V355.30M442.00 346.50L450.80 355.30M442.00 355.30L450.80 346.50" stroke="#000" stroke-width="1.1" fill="none"/>
<rect x="445.50" y="350.00" width="1.8" height="1.8" fill="#000"/>
<path d="M454.00 366.20H462.80M458.40 361.80V370.60M454.00 361.80L462.80 370.60M454.00 370.60L462.80 361.80" stroke="#000" stroke-width="1.1" fill="none"/>
<rect x="457.50" y="365.30" width="1.8" height="1.8" fill="#000"/>
<path d="M463.20 380.10H472.00M467.60 375.70V384.50M463.20 375.70L472.00 384.50M463.20 384.50L472.00 375.70" stroke="#000" stroke-width="1.1" fill="none"/>
<rect x="466.70" y="379.20" width="1.8" height="1.8" fill="#000"/>
<path d="M482.70 408.20H491.50M487.10 403.80V412.60M482.70 403.80L491.50 412.60M482.70 412.60L491.50 403.80" stroke="#000" stroke-width="1.1" fill="none"/>
<rect x="486.20" y="407.30" width="1.8" height="1.8" fill="#000"/>
<path d="M504.60 441.20H513.40M509.00 436.80V445.60M504.60 436.80L513.40 445.60M504.60 445.60L513.40 436.80" stroke="#000" stroke-width="1.1" fill="none"/>
<rect x="508.10" y="440.30" width="1.8" height="1.8" fill="#000"/>
<path d="M522.80 469.00H531.60M527.20 464.60V473.40M522.80 464.60L531.60 473.40M522.80 473.40L531.60 464.60" stroke="#000" stroke-width="1.1" fill="none"/>
<rect x="526.30" y="468.10" width="1.8" height="1.8" fill="#000"/>
<path d="M537.10 492.50H545.90M541.50 488.10V496.90M537.10 488.10L545.90 496.90M537.10 496.90L545.90 488.10" stroke="#000" stroke-width="1.1" fill="none"/>
<rect x="540.60" y="491.60" width="1.8" height="1.8" fill="#000"/>
<path d="M546.40 508.10H555.20M550.80 503.70V512.50M546.40 503.70L555.20 512.50M546.40 512.50L555.20 503.70" stroke="#000" stroke-width="1.1" fill="none"/>
<rect x="549.90" y="507.20" width="1.8" height="1.8" fill="#000"/>
</svg></body></html>
